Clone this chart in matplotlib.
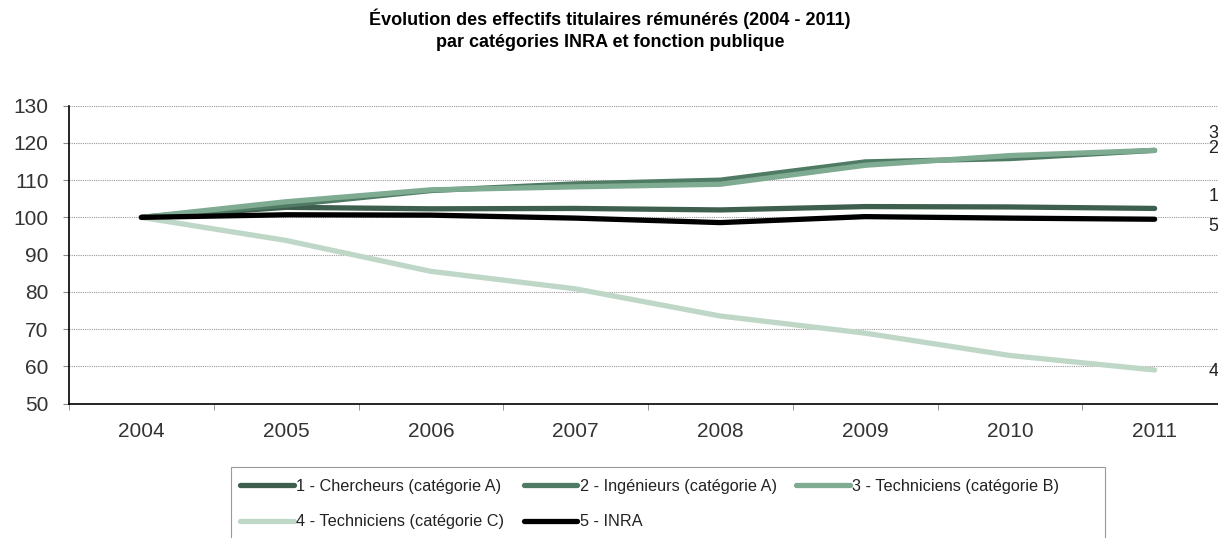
import matplotlib
matplotlib.use("Agg")
import matplotlib.pyplot as plt
from matplotlib.patches import Rectangle
import numpy as np

plt.rcParams['font.family'] = ['Liberation Sans', 'DejaVu Sans']

years = ["2004", "2005", "2006", "2007", "2008", "2009", "2010", "2011"]
chercheurs_A = [100, 102.7, 102.3, 102.4, 102.0, 102.9, 102.8, 102.4]
ingenieurs_A = [100, 103.3, 107.2, 109.0, 110.0, 114.9, 115.8, 118.0]
techniciens_B = [100, 104.2, 107.4, 108.2, 108.9, 114.0, 116.6, 118.0]
techniciens_C = [100, 93.8, 85.5, 80.8, 73.5, 68.9, 62.9, 59.0]
inra = [100, 100.7, 100.6, 99.8, 98.6, 100.2, 99.8, 99.5]

series_labels = ["1 - Chercheurs (catégorie A)", "2 - Ingénieurs (catégorie A)",
                 "3 - Techniciens (catégorie B)", "4 - Techniciens (catégorie C)",
                 "5 - INRA"]
end_labels = ["1", "2", "3", "4", "5"]
colors = ["#3f5f4e", "#4f7a63", "#7eab92", "#bfd7c7", "#000000"]
yticks = [50, 60, 70, 80, 90, 100, 110, 120, 130]
title = "Évolution des effectifs titulaires rémunérés (2004 - 2011)\npar catégories INRA et fonction publique"

W, H = 1218, 538
fig = plt.figure(figsize=(W / 100, H / 100), dpi=100)
ax = fig.add_axes([69 / W, 1 - 403.5 / H, (1227 - 69) / W, (403.5 - 105.7) / H])

x = np.arange(len(years))
data = [chercheurs_A, ingenieurs_A, techniciens_B, techniciens_C, inra]
handles = []
for vals, c, lab in zip(data, colors, series_labels):
    h, = ax.plot(x, vals, color=c, lw=3.8, solid_capstyle='round',
                 solid_joinstyle='round', label=lab)
    handles.append(h)

ax.set_xlim(-0.5, len(years) - 0.5)
ax.set_ylim(50, 130)
ax.set_yticks(yticks)
ax.set_yticklabels([str(v) for v in yticks], fontsize=15, color="#333333")
ax.set_xticks(x)
ax.set_xticklabels(years, fontsize=15, color="#333333")
ax.set_xticks(np.arange(-0.5, len(years)), minor=True)
ax.tick_params(axis='x', which='major', length=0, pad=13)
ax.tick_params(axis='x', which='minor', length=4.3, color="#888888", direction='out')
ax.tick_params(axis='y', which='major', length=4.3, color="#888888", direction='out', pad=10.5)

ax.grid(axis='y', which='major', linestyle=(0, (1, 1)), color="#999999", lw=0.8)
ax.set_axisbelow(True)
for s in ['top', 'right']:
    ax.spines[s].set_visible(False)
ax.spines['left'].set_color('black')
ax.spines['bottom'].set_color('black')
ax.spines['left'].set_linewidth(1.2)
ax.spines['bottom'].set_linewidth(1.2)

# end labels
offsets = {"1": 3.3, "2": 0.4, "3": 4.4, "4": -0.5, "5": -2.0}
for vals, lab in zip(data, end_labels):
    ax.text(7.37, vals[-1] + offsets[lab], lab, fontsize=13, color="#222222",
            ha='left', va='center', clip_on=False)

fig.text(610 / W, 1 - 29.5 / H, title, ha='center', va='center',
         fontsize=13, fontweight='bold', linespacing=1.35)

# legend box (open at bottom, cropped by figure edge)
fig.patches.append(Rectangle((231 / W, 1 - 600 / H), (1105 - 231) / W, (600 - 467) / H,
                             transform=fig.transFigure, fill=False,
                             edgecolor="#999999", lw=0.8))

order = [0, 3, 1, 4, 2]
leg = fig.legend([handles[i] for i in order], [series_labels[i] for i in order],
                 loc='upper left', bbox_to_anchor=(240 / W, 1 - 479 / H),
                 ncol=3, fontsize=11.7, frameon=False,
                 handlelength=3.3, handletextpad=0.15, columnspacing=1.2,
                 labelspacing=1.25, borderpad=0, borderaxespad=0)
for t in leg.get_texts():
    t.set_color("#222222")

fig.savefig("out.png", dpi=100)
